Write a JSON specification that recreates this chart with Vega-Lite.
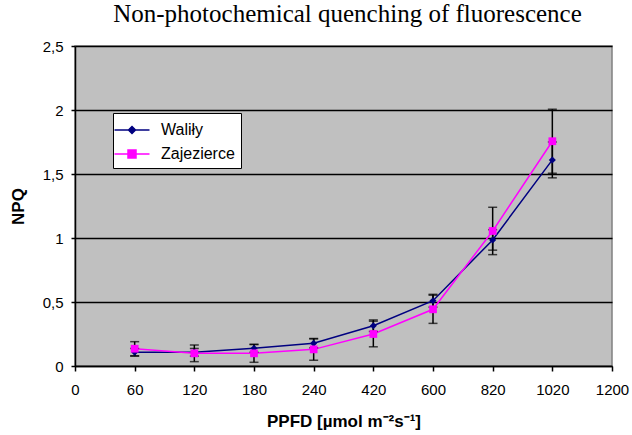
{
  "$schema": "https://vega.github.io/schema/vega-lite/v6.json",
  "width": 537,
  "height": 320,
  "autosize": "none",
  "padding": {"left": 75, "top": 46, "right": 20, "bottom": 69},
  "background": "white",
  "title": {
    "text": "Non-photochemical quenching of fluorescence",
    "font": "Liberation Serif",
    "fontSize": 25,
    "fontWeight": "normal",
    "color": "black",
    "anchor": "middle",
    "dx": 4,
    "offset": 12
  },
  "data": {
    "values": [
      {"ppfd": "60", "series": "Waliły", "npq": 0.107, "err": 0.03},
      {"ppfd": "120", "series": "Waliły", "npq": 0.107, "err": 0.03},
      {"ppfd": "180", "series": "Waliły", "npq": 0.138, "err": 0.03},
      {"ppfd": "240", "series": "Waliły", "npq": 0.177, "err": 0.035},
      {"ppfd": "420", "series": "Waliły", "npq": 0.315, "err": 0.045},
      {"ppfd": "600", "series": "Waliły", "npq": 0.51, "err": 0.05},
      {"ppfd": "820", "series": "Waliły", "npq": 0.985, "err": 0.08},
      {"ppfd": "1020", "series": "Waliły", "npq": 1.61, "err": 0.14},
      {"ppfd": "60", "series": "Zajezierce", "npq": 0.135, "err": 0.055},
      {"ppfd": "120", "series": "Zajezierce", "npq": 0.099, "err": 0.065},
      {"ppfd": "180", "series": "Zajezierce", "npq": 0.099, "err": 0.07},
      {"ppfd": "240", "series": "Zajezierce", "npq": 0.13, "err": 0.085},
      {"ppfd": "420", "series": "Zajezierce", "npq": 0.25, "err": 0.1},
      {"ppfd": "600", "series": "Zajezierce", "npq": 0.443, "err": 0.11},
      {"ppfd": "820", "series": "Zajezierce", "npq": 1.055, "err": 0.185},
      {"ppfd": "1020", "series": "Zajezierce", "npq": 1.756, "err": 0.25}
    ]
  },
  "encoding": {
    "x": {
      "field": "ppfd",
      "type": "ordinal",
      "sort": null,
      "scale": {"type": "point", "padding": 0, "domain": ["0", "60", "120", "180", "240", "420", "600", "820", "1020", "1200"]},
      "axis": {
        "title": "PPFD [µmol m⁻²s⁻¹]",
        "labelAngle": 0,
        "grid": false,
        "tickSize": 5,
        "labelPadding": 11,
        "titlePadding": 16
      }
    },
    "y": {
      "field": "npq",
      "type": "quantitative",
      "scale": {"domain": [0, 2.5], "nice": false, "zero": true},
      "axis": {
        "title": "NPQ",
        "values": [0, 0.5, 1, 1.5, 2, 2.5],
        "labelExpr": "replace(format(datum.value, '~g'), '.', ',')",
        "grid": true,
        "gridColor": "black",
        "gridWidth": 1.5,
        "gridOpacity": 1,
        "tickSize": 4,
        "labelPadding": 8,
        "titlePadding": 15
      }
    }
  },
  "layer": [
    {
      "mark": {"type": "line", "strokeWidth": 1.5},
      "encoding": {
        "color": {
          "field": "series",
          "type": "nominal",
          "scale": {"domain": ["Waliły", "Zajezierce"], "range": ["#000080", "#FF00FF"]},
          "legend": {
            "title": null,
            "orient": "none",
            "legendX": 38,
            "legendY": 67,
            "fillColor": "white",
            "strokeColor": "black",
            "padding": 6,
            "rowPadding": 5,
            "labelOffset": 18,
            "symbolOffset": 2,
            "symbolSize": 400,
            "labelFont": "Liberation Sans",
            "labelFontSize": 16,
            "labelColor": "black",
            "encode": {
              "symbols": {
                "update": {
                  "shape": {"signal": "datum.value == 'Waliły' ? 'M-1.75,0H1.75M0,-0.35L0.35,0L0,0.35L-0.35,0Z' : 'M-1.75,0H1.75M-0.4,-0.4H0.4V0.4H-0.4Z'"},
                  "fill": {"scale": "color", "field": "value"},
                  "stroke": {"scale": "color", "field": "value"},
                  "strokeWidth": {"value": 1.5},
                  "size": {"value": 400},
                  "opacity": {"value": 1}
                }
              }
            }
          }
        }
      }
    },
    {
      "mark": {
        "type": "errorbar",
        "ticks": {"size": 9, "color": "black", "thickness": 1.5},
        "rule": {"color": "black", "strokeWidth": 1.5}
      },
      "encoding": {
        "y": {"field": "npq", "type": "quantitative"},
        "yError": {"field": "err"}
      }
    },
    {
      "transform": [{"filter": "datum.series == 'Waliły'"}],
      "mark": {"type": "point", "filled": true, "opacity": 1, "size": 50, "shape": "diamond", "color": "#000080"}
    },
    {
      "transform": [{"filter": "datum.series == 'Zajezierce'"}],
      "mark": {"type": "point", "filled": true, "opacity": 1, "size": 60, "shape": "square", "color": "#FF00FF"}
    }
  ],
  "config": {
    "view": {"fill": "#C0C0C0", "stroke": "#808080", "strokeWidth": 1.5},
    "axis": {
      "labelFont": "Liberation Sans",
      "labelFontSize": 15,
      "labelColor": "black",
      "titleFont": "Liberation Sans",
      "titleFontSize": 17,
      "titleFontWeight": "bold",
      "titleColor": "black",
      "domainColor": "black",
      "domainWidth": 1.5,
      "tickColor": "black",
      "tickWidth": 1.5
    }
  }
}
